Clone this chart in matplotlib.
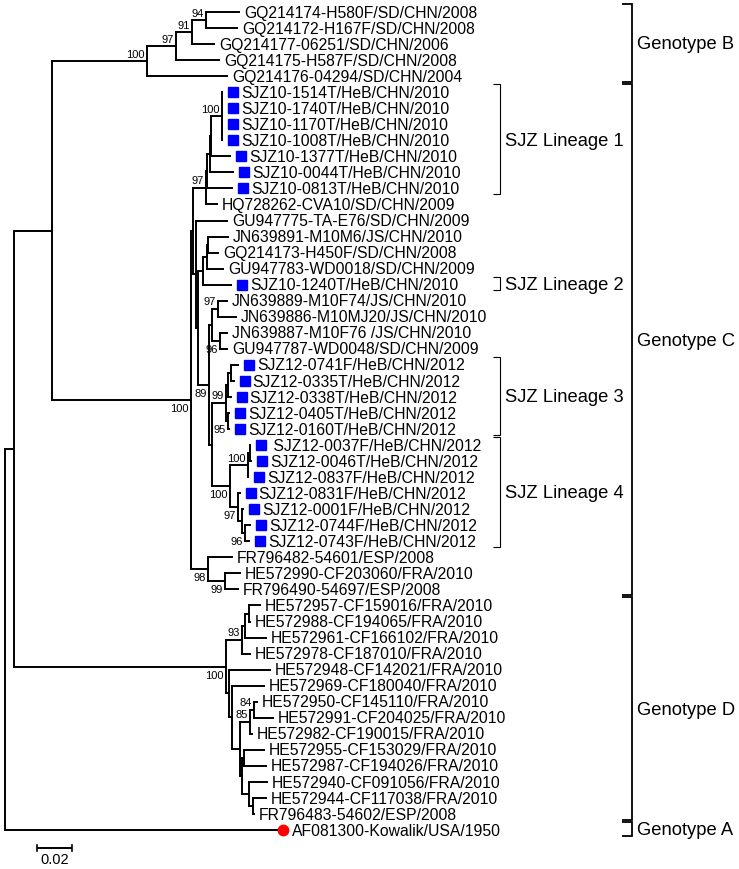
import re
import matplotlib
matplotlib.use("Agg")
import matplotlib.pyplot as plt
from matplotlib.collections import LineCollection

# ---------------- data ----------------
leaf_labels = [
    "GQ214174-H580F/SD/CHN/2008", "GQ214172-H167F/SD/CHN/2008", "GQ214177-06251/SD/CHN/2006",
    "GQ214175-H587F/SD/CHN/2008", "GQ214176-04294/SD/CHN/2004",
    "SJZ10-1514T/HeB/CHN/2010", "SJZ10-1740T/HeB/CHN/2010", "SJZ10-1170T/HeB/CHN/2010",
    "SJZ10-1008T/HeB/CHN/2010", "SJZ10-1377T/HeB/CHN/2010", "SJZ10-0044T/HeB/CHN/2010",
    "SJZ10-0813T/HeB/CHN/2010", "HQ728262-CVA10/SD/CHN/2009", "GU947775-TA-E76/SD/CHN/2009",
    "JN639891-M10M6/JS/CHN/2010", "GQ214173-H450F/SD/CHN/2008", "GU947783-WD0018/SD/CHN/2009",
    "SJZ10-1240T/HeB/CHN/2010", "JN639889-M10F74/JS/CHN/2010", "JN639886-M10MJ20/JS/CHN/2010",
    "JN639887-M10F76 /JS/CHN/2010", "GU947787-WD0048/SD/CHN/2009",
    "SJZ12-0741F/HeB/CHN/2012", "SJZ12-0335T/HeB/CHN/2012", "SJZ12-0338T/HeB/CHN/2012",
    "SJZ12-0405T/HeB/CHN/2012", "SJZ12-0160T/HeB/CHN/2012",
    " SJZ12-0037F/HeB/CHN/2012", "SJZ12-0046T/HeB/CHN/2012", "SJZ12-0837F/HeB/CHN/2012",
    "SJZ12-0831F/HeB/CHN/2012", "SJZ12-0001F/HeB/CHN/2012", "SJZ12-0744F/HeB/CHN/2012",
    "SJZ12-0743F/HeB/CHN/2012",
    "FR796482-54601/ESP/2008", "HE572990-CF203060/FRA/2010", "FR796490-54697/ESP/2008",
    "HE572957-CF159016/FRA/2010", "HE572988-CF194065/FRA/2010", "HE572961-CF166102/FRA/2010",
    "HE572978-CF187010/FRA/2010", "HE572948-CF142021/FRA/2010", "HE572969-CF180040/FRA/2010",
    "HE572950-CF145110/FRA/2010", "HE572991-CF204025/FRA/2010", "HE572982-CF190015/FRA/2010",
    "HE572955-CF153029/FRA/2010", "HE572987-CF194026/FRA/2010", "HE572940-CF091056/FRA/2010",
    "HE572944-CF117038/FRA/2010", "FR796483-54602/ESP/2008",
    "AF081300-Kowalik/USA/1950",
]
square_leaves = [5, 6, 7, 8, 9, 10, 11, 17, 22, 23, 24, 25, 26, 27, 28, 29, 30, 31, 32, 33]
circle_leaves = [51]

# tree pieces (Newick, branch lengths in substitutions/site; "v" = bootstrap drawn below node)
clade_B = "((((t0:0.0187,t1:0.0176)94:0.0079,t2:0.0125)91:0.0091,t3:0.0244)97:0.0164,t4:0.0453)100"
clade_L1 = ("(((((t5:0,t6:0,t7:0,t8:0)100:0.0062,t9:0.0108):0.0006,t10:0.0130):0.0017,"
            "t11:0.0142):0.0006,t12:0.0062)97")
clade_X4 = "(((t14:0.0113,t15:0.0057):0.0006,t16:0.0091):0.0023,t17:0.0159)"
clade_JN = "((t18:0.0051,t19:0.0102)97:0.0034,(t20:0.0040,t21:0.0040)96v:0.0045)"
clade_L3 = ("(((t22:0.0040,t23:0.0017):0.0017,t24:0.0017):0.0011,"
            "(t25:0.0006,t26:0.0006)95v:0.0011)99")
clade_L4 = ("(((t27:0,t28:0.0006):0.0011,t29:0)100:0.0102,"
            "(t30:0.0011,(t31:0.0006,(t32:0.0028,t33:0.0023)96v:0.0017):0.0023)97v:0.0045)100v")
clade_89 = "(" + clade_JN + ":0.0017,(" + clade_L3 + ":0.0079," + clade_L4 + ":0.0102):0.0017)89v"
clade_C1 = ("(" + clade_L1 + ":0.0074,(t13:0.0176,(" + clade_X4 + ":0.0028," + clade_89 +
            ":0.0062):0.0011):0.0017)")
clade_98 = "(t34:0.0136,(t35:0.0085,t36:0.0074)99v:0.0096)98v"
clade_C = "(" + clade_C1 + ":0.0011," + clade_98 + ":0.0096)100v"
clade_D = ("((((t37:0.0062,t38:0.0006):0.0023,t39:0.0119):0.0017,t40:0.0045)93:0.0091,"
           "(t41:0.0232,(t42:0.0181,(((t43:0.0017,t44:0.0108)84:0.0023,t45:0.0011)85:0.0057,"
           "((t46:0.0113,t47:0.0125):0.0011,(t48:0.0102,(t49:0.0074,t50:0.0006):0.0023):0.0040)"
           ":0.0011):0.0045):0.0017):0.0017)100v")
tree_newick = ("(((" + clade_B + ":0.0538," + clade_C + ":0.0788):0.0215," + clade_D +
               ":0.1201):0.0051,t51:0.1541);")

lineage_brackets = [(5, 11, "SJZ Lineage 1"), (17, 17, "SJZ Lineage 2"),
                    (22, 26, "SJZ Lineage 3"), (27, 33, "SJZ Lineage 4")]
genotype_brackets = [(0, 4, "Genotype B"), (5, 36, "Genotype C"),
                     (37, 50, "Genotype D"), (51, 51, "Genotype A")]
scale_length = 0.02
scale_label = "0.02"


# ---------------- parse & layout ----------------
def parse_newick(s):
    s = s.strip().rstrip(";")
    pos = 0

    def node():
        nonlocal pos
        n = {"children": [], "name": "", "length": 0.0}
        if s[pos] == "(":
            pos += 1
            while True:
                n["children"].append(node())
                if s[pos] == ",":
                    pos += 1
                    continue
                pos += 1  # ')'
                break
        m = re.match(r"[^:,()]*", s[pos:])
        n["name"] = m.group(0)
        pos += len(m.group(0))
        if pos < len(s) and s[pos] == ":":
            pos += 1
            m = re.match(r"[0-9.eE+-]+", s[pos:])
            n["length"] = float(m.group(0))
            pos += len(m.group(0))
        return n

    return node()


def layout(n, x0):
    n["x"] = x0 + n["length"]
    if n["children"]:
        for c in n["children"]:
            layout(c, n["x"])
        n["y"] = (n["children"][0]["y"] + n["children"][-1]["y"]) / 2.0
    else:
        n["y"] = float(int(n["name"][1:]))


root = parse_newick(tree_newick)
layout(root, 0.0)

# ---------------- figure ----------------
W, H = 739, 869
PXU = 1.0 / 1765.0          # data units per pixel horizontally
ROW = 16.04                 # pixels per leaf row
fig = plt.figure(figsize=(W / 100, H / 100), dpi=100)
ax = fig.add_axes([0, 0, 1, 1])
ax.set_xlim(-5 * PXU, (W - 5) * PXU)
top = -12.0 / ROW
ax.set_ylim(top + H / ROW, top)
ax.axis("off")

PX_Y = 1.0 / ROW
FONT = ["Liberation Sans", "Arial", "DejaVu Sans"]
leaf_fs = 11.3
boot_fs = 8.0
big_fs = 13.2

segs = []


def draw(n):
    if n["children"]:
        ys = [c["y"] for c in n["children"]]
        segs.append([(n["x"], min(ys)), (n["x"], max(ys))])
        for c in n["children"]:
            segs.append([(n["x"], c["y"]), (c["x"], c["y"])])
            draw(c)
        name = n["name"]
        if name:
            below = name.endswith("v")
            val = name.rstrip("v")
            if below:
                ax.text(n["x"] - 2 * PXU, n["y"] + 4 * PX_Y, val, ha="right", va="top",
                        fontsize=boot_fs, family=FONT)
            else:
                ax.text(n["x"] - 2.5 * PXU, n["y"] - 3.5 * PX_Y, val, ha="right", va="baseline",
                        fontsize=boot_fs, family=FONT)
    else:
        idx = int(n["name"][1:])
        base = n["y"] + 5.6 * PX_Y
        if idx in square_leaves:
            ax.plot(n["x"] + 11 * PXU, n["y"], marker="s", ms=7.0, color="#0000ff",
                    mec="#0000ff", ls="none")
            tx = n["x"] + 19 * PXU
        elif idx in circle_leaves:
            ax.plot(n["x"] + 6 * PXU, n["y"], marker="o", ms=7.5, color="#ff0000",
                    mec="#ff0000", ls="none")
            tx = n["x"] + 15 * PXU
        else:
            tx = n["x"] + 5 * PXU
        ax.text(tx, base, leaf_labels[idx], ha="left", va="baseline", fontsize=leaf_fs,
                family=FONT)


draw(root)
ax.add_collection(LineCollection(segs, colors="black", linewidths=1.4,
                                 capstyle="projecting"))


def bracket(first, last, label, xpx, tick, lw, pad_top, pad_bot):
    y0 = first - pad_top
    y1 = last + pad_bot
    x = (xpx - 5) * PXU
    ax.plot([x - tick * PXU, x, x, x - tick * PXU], [y0, y0, y1, y1], color="black",
            lw=lw, solid_joinstyle="miter", solid_capstyle="butt")
    ax.text(x + 5 * PXU, (y0 + y1) / 2 + 6.5 * PX_Y, label, ha="left", va="baseline",
            fontsize=big_fs, family=FONT)


for f, l, lab in lineage_brackets:
    bracket(f, l, lab, 500, 7, 0.8, 0.5, 0.35)
for f, l, lab in genotype_brackets:
    bracket(f, l, lab, 632, 10, 1.3, 0.5, 0.35)

# scale bar
sx0 = (37 - 5) * PXU
sy = (848 - 12) / ROW
ax.plot([sx0, sx0 + scale_length], [sy, sy], color="black", lw=1.4, solid_capstyle="butt")
for xx in (sx0, sx0 + scale_length):
    ax.plot([xx, xx], [sy - 3 * PX_Y, sy + 3 * PX_Y], color="black", lw=1.2)
ax.text(sx0 + scale_length / 2, sy + 5 * PX_Y, scale_label, ha="center", va="top",
        fontsize=10.5, family=FONT)

fig.savefig("out.png", dpi=100)
